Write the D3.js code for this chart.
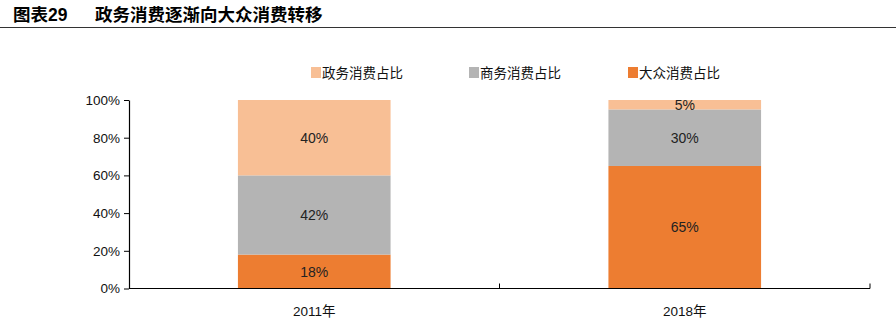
<!DOCTYPE html>
<html><head><meta charset="utf-8">
<script src="https://cdn.jsdelivr.net/npm/d3@7"></script>
<style>body{margin:0;background:#fff;}svg{display:block;}</style>
</head><body>
<svg id="c" width="896" height="328"></svg>
<script>
const categories = ["2011年", "2018年"];
const seriesNames = ["大众消费占比", "商务消费占比", "政务消费占比"];
const mass = [18, 65];
const business = [42, 30];
const government = [40, 5];
const yTicks = [0, 20, 40, 60, 80, 100];
const legendOrder = ["政务消费占比", "商务消费占比", "大众消费占比"];
const colors = {"大众消费占比": "#ED7D31", "商务消费占比": "#B4B4B4", "政务消费占比": "#F8BF95"};

const svg = d3.select("#c");
const font = "'Liberation Sans', Arial, 'Noto Sans CJK SC', sans-serif";

// title
const title = svg.append("text").attr("y", 21)
  .attr("font-family", "'Liberation Sans', 'Noto Sans CJK SC', sans-serif").attr("font-weight", "bold")
  .attr("font-size", 17.5).attr("fill", "#000");
title.append("tspan").attr("x", 13).text("图表29");
title.append("tspan").attr("x", 95).text("政务消费逐渐向大众消费转移");
svg.append("line").attr("x1", 0).attr("x2", 896).attr("y1", 27.5).attr("y2", 27.5)
  .attr("stroke", "#333").attr("stroke-width", 1.2);

const x = d3.scaleBand().domain(categories).range([129, 870]).paddingInner(0).paddingOuter(0);
const y = d3.scaleLinear().domain([0, 100]).range([288.5, 100]);

const rows = categories.map((c, i) => ({cat: c, "大众消费占比": mass[i], "商务消费占比": business[i], "政务消费占比": government[i]}));
const stack = d3.stack().keys(seriesNames)(rows);
const barW = x.bandwidth() * 0.412;

const g = svg.append("g");
stack.forEach(layer => {
  layer.forEach(d => {
    const cx = x(d.data.cat) + x.bandwidth() / 2;
    g.append("rect").attr("x", cx - barW / 2).attr("width", barW)
      .attr("y", y(d[1])).attr("height", y(d[0]) - y(d[1]))
      .attr("fill", colors[layer.key]);
    g.append("text").attr("x", cx).attr("y", (y(d[0]) + y(d[1])) / 2 + 5)
      .attr("text-anchor", "middle").attr("font-family", font).attr("font-size", 14)
      .attr("fill", "#222").text((d[1] - d[0]) + "%");
  });
});

// y axis
const ya = svg.append("g").attr("transform", "translate(129,0)")
  .call(d3.axisLeft(y).tickValues(yTicks).tickFormat(d => d + "%").tickSize(5).tickSizeOuter(0));
ya.select(".domain").attr("stroke", "#000").attr("stroke-width", 1.2);
ya.selectAll(".tick line").attr("stroke", "#000");
ya.selectAll("text").attr("font-family", font).attr("font-size", 13.5).attr("fill", "#111").attr("x", -9);

// x axis
const xa = svg.append("g").attr("transform", "translate(0,288.5)");
xa.append("line").attr("x1", 129).attr("x2", 870).attr("stroke", "#000").attr("stroke-width", 1.2);
const bounds = categories.map(c => x(c) + x.bandwidth());
xa.selectAll(".tk").data(bounds).enter().append("line")
  .attr("x1", d => d).attr("x2", d => d).attr("y1", 0).attr("y2", -5).attr("stroke", "#000");
xa.selectAll(".lb").data(categories).enter().append("text")
  .attr("x", d => x(d) + x.bandwidth() / 2).attr("y", 27)
  .attr("text-anchor", "middle").attr("font-family", font).attr("font-size", 13.5).attr("fill", "#111")
  .text(d => d);

// legend
const legendX = [311, 469, 628];
const lg = svg.append("g");
legendOrder.forEach((k, i) => {
  lg.append("rect").attr("x", legendX[i]).attr("y", 67).attr("width", 10).attr("height", 11).attr("fill", colors[k]);
  lg.append("text").attr("x", legendX[i] + 11).attr("y", 78)
    .attr("font-family", font).attr("font-size", 13.5).attr("fill", "#111").text(k);
});
</script>
</body></html>
